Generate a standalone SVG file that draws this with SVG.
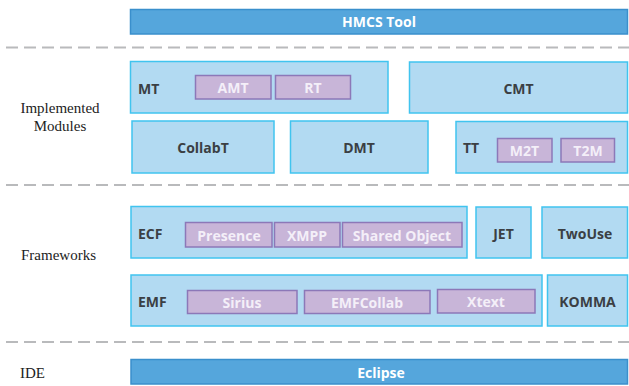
<svg xmlns="http://www.w3.org/2000/svg" width="629" height="386" viewBox="0 0 629 386">
<style>
.bar{fill:#55a6dc;stroke:#3a8fcc;stroke-width:1.5}
.mod{fill:#b2daf2;stroke:#40c4ef;stroke-width:1.5}
.sub{fill:#c8b5d8;stroke:#8c78b8;stroke-width:1.5}
.sep{stroke:#b9babc;stroke-width:2;stroke-dasharray:12 6;fill:none}
text{font-family:"Open Sans","Noto Sans","DejaVu Sans",sans-serif;font-weight:bold;font-size:14px;dominant-baseline:central}
.bt{fill:#ffffff}
.mt{fill:#3b3f44}
.st{fill:#f4eff8}
.lab{font-family:"Liberation Serif","Times New Roman",serif;font-weight:normal;font-size:15px;fill:#222}
</style>
<rect width="629" height="386" fill="#ffffff"/>
<g id="separators">
<line class="sep" x1="6" y1="47.5" x2="629" y2="47.5"/>
<line class="sep" x1="6" y1="185" x2="629" y2="185"/>
<line class="sep" x1="6" y1="342" x2="629" y2="342"/>
</g>
<g id="labels">
<text class="lab" x="60" y="108" text-anchor="middle">Implemented</text>
<text class="lab" x="60" y="126" text-anchor="middle">Modules</text>
<text class="lab" x="21" y="255">Frameworks</text>
<text class="lab" x="20" y="373">IDE</text>
</g>
<g id="hmcs"><rect class="bar" x="130.5" y="9.5" width="497" height="24.5"/><text class="bt" x="379" y="21.5" text-anchor="middle">HMCS Tool</text></g>
<g id="mt"><rect class="mod" x="130.5" y="61.5" width="257.5" height="51.5"/><text class="mt" x="138" y="88">MT</text></g>
<g id="amt"><rect class="sub" x="195.5" y="75.5" width="75.5" height="23.5"/><text class="st" x="233" y="87.5" text-anchor="middle">AMT</text></g>
<g id="rt"><rect class="sub" x="275.5" y="75.5" width="75" height="23.5"/><text class="st" x="313" y="87.5" text-anchor="middle">RT</text></g>
<g id="cmt"><rect class="mod" x="409.5" y="62" width="218" height="51"/><text class="mt" x="518.5" y="88" text-anchor="middle">CMT</text></g>
<g id="collabt"><rect class="mod" x="132" y="121" width="142" height="52"/><text class="mt" x="203" y="147" text-anchor="middle">CollabT</text></g>
<g id="dmt"><rect class="mod" x="290.5" y="121" width="137.5" height="52"/><text class="mt" x="359" y="147" text-anchor="middle">DMT</text></g>
<g id="tt"><rect class="mod" x="456" y="121.5" width="171.5" height="51.5"/><text class="mt" x="463" y="147">TT</text></g>
<g id="m2t"><rect class="sub" x="497.5" y="138.5" width="54.5" height="23.5"/><text class="st" x="524.5" y="150" text-anchor="middle">M2T</text></g>
<g id="t2m"><rect class="sub" x="561" y="138.5" width="53.5" height="23.5"/><text class="st" x="588" y="150" text-anchor="middle">T2M</text></g>
<g id="ecf"><rect class="mod" x="131" y="206.5" width="336" height="51.5"/><text class="mt" x="138" y="233">ECF</text></g>
<g id="presence"><rect class="sub" x="185.5" y="222.5" width="86.5" height="24.5"/><text class="st" x="229" y="235" text-anchor="middle">Presence</text></g>
<g id="xmpp"><rect class="sub" x="274.5" y="222.5" width="65.5" height="24.5"/><text class="st" x="307" y="235" text-anchor="middle">XMPP</text></g>
<g id="sharedobject"><rect class="sub" x="342.5" y="222.5" width="119.5" height="24.5"/><text class="st" x="402" y="235" text-anchor="middle">Shared Object</text></g>
<g id="jet"><rect class="mod" x="476" y="207" width="55" height="51"/><text class="mt" x="503.5" y="233" text-anchor="middle">JET</text></g>
<g id="twouse"><rect class="mod" x="542" y="207" width="85.5" height="51"/><text class="mt" x="585" y="233" text-anchor="middle">TwoUse</text></g>
<g id="emf"><rect class="mod" x="131" y="275" width="411" height="51"/><text class="mt" x="138" y="301">EMF</text></g>
<g id="sirius"><rect class="sub" x="187.5" y="290.5" width="109.5" height="23"/><text class="st" x="242" y="302" text-anchor="middle">Sirius</text></g>
<g id="emfcollab"><rect class="sub" x="304.5" y="290.5" width="125.5" height="23"/><text class="st" x="367" y="302" text-anchor="middle">EMFCollab</text></g>
<g id="xtext"><rect class="sub" x="437.5" y="289.5" width="97.5" height="23.5"/><text class="st" x="486" y="301" text-anchor="middle">Xtext</text></g>
<g id="komma"><rect class="mod" x="547.5" y="275" width="80" height="51"/><text class="mt" x="587.5" y="301" text-anchor="middle">KOMMA</text></g>
<g id="eclipse"><rect class="bar" x="131" y="359.5" width="496.5" height="24.5"/><text class="bt" x="381" y="372" text-anchor="middle">Eclipse</text></g>
<g id="connectors"></g>
</svg>
